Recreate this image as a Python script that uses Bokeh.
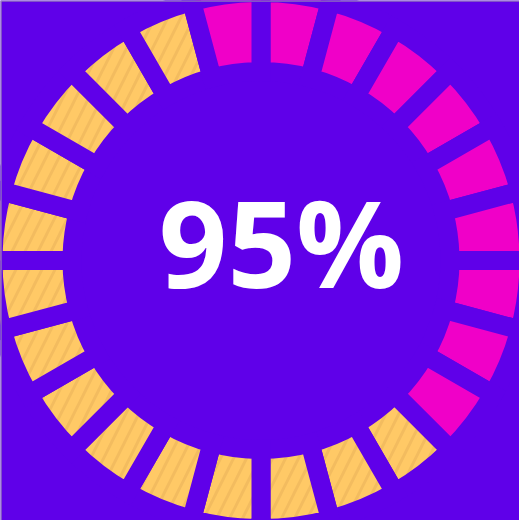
from bokeh.plotting import figure
from bokeh.models import ColumnDataSource, Range1d, Span
from bokeh.embed import file_html
from bokeh.resources import INLINE
from bokeh.core.properties import value

# ---- data ----
segment_start_deg = [0, 15, 30, 45, 60, 75, 90, 105, 120, 135, 150, 165,
                     180, 195, 210, 225, 240, 255, 270, 285, 300, 315, 330, 345]
segment_state = ["on", "on", "on", "on", "on", "on", "on", "on", "on", "off", "off", "off",
                 "off", "off", "off", "off", "off", "off", "off", "off", "off", "off", "off", "on"]
label_text = "95%"

BG = "#5F00E9"
ON = "#F000C8"
OFF = "#FFC966"
SEG = 15

W, H = 519, 520
cx, cy = 260.5, 260.0
r_in, r_out = 198.5, 258.5
gap = 19

starts = [90 - s for s in segment_start_deg]
ends = [90 - (s + SEG) for s in segment_start_deg]
colors = [ON if st == "on" else OFF for st in segment_state]
hatches = [" " if st == "on" else "/" for st in segment_state]

src = ColumnDataSource(dict(x=[cx] * len(starts), y=[cy] * len(starts),
                            start=starts, end=ends, color=colors, hatch=hatches))

p = figure(width=W, height=H, x_range=Range1d(0, W), y_range=Range1d(0, H),
           output_backend="svg", toolbar_location=None, min_border=0,
           background_fill_color=BG, border_fill_color=BG, outline_line_color=None)
p.axis.visible = False
p.grid.visible = False

p.annular_wedge(x="x", y="y", inner_radius=r_in - gap / 2, outer_radius=r_out + gap / 2,
                start_angle="start", end_angle="end", start_angle_units="deg",
                end_angle_units="deg", direction="clock", source=src,
                fill_color="color", line_color=BG, line_width=gap, line_join="miter",
                hatch_pattern="hatch", hatch_color="#D49A4A", hatch_alpha=0.28,
                hatch_weight=3, hatch_scale=26)

p.text(x=[281], y=[H - 288 + 47], text=[label_text], text_align="center",
       text_baseline="alphabetic", text_color="white",
       text_font=value("Open Sans"), text_font_style="bold", text_font_size="120px")

p.add_layout(Span(location=H - 0.5, dimension="width", line_color="#A6A6A6", line_width=1))
p.add_layout(Span(location=0.5, dimension="height", line_color="#A6A6A6", line_width=1))

open("out.html", "w").write(file_html(p, INLINE))
